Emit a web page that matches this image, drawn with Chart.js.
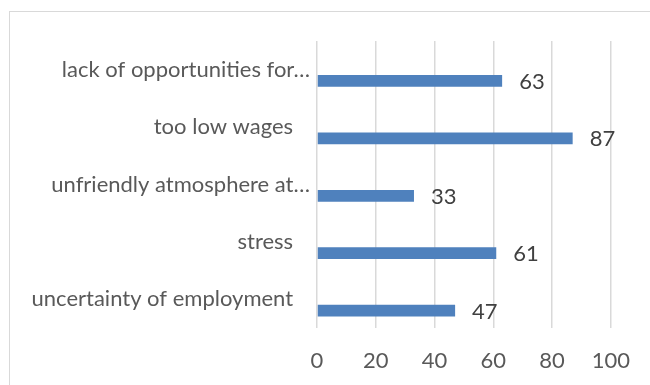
<!DOCTYPE html>
<html>
<head>
<meta charset="utf-8">
<script src="https://cdn.jsdelivr.net/npm/chart.js@4.4.1/dist/chart.umd.min.js"></script>
<style>
  html, body { margin: 0; padding: 0; background: #fff; overflow: hidden; }
  #frame { position: absolute; left: 9px; top: 11px; width: 700px; height: 400px; border: 1px solid #d9d9d9; }
  #wrap { position: absolute; left: 0; top: 0; width: 650px; height: 385px; }
</style>
</head>
<body>
<div id="frame"></div>
<div id="wrap"><canvas id="reasonsChart"></canvas></div>
<script>
// chart data
var categories = ['lack of opportunities for…', 'too low wages', 'unfriendly atmosphere at…', 'stress', 'uncertainty of employment'];
var values = [63, 87, 33, 61, 47];
var xTicks = [0, 20, 40, 60, 80, 100];

// draws the number to the right of each bar
var valueLabels = {
    id: 'valueLabels',
    afterDatasetsDraw: function(chart) {
        var ctx = chart.ctx;
        var meta = chart.getDatasetMeta(1);
        ctx.save();
        ctx.font = '22px Lato';
        ctx.fillStyle = '#404040';
        ctx.textAlign = 'left';
        ctx.textBaseline = 'middle';
        meta.data.forEach(function(bar, i) {
            ctx.fillText(String(values[i]), bar.x + 17, bar.y + 1);
        });
        ctx.restore();
    }
};

document.addEventListener('DOMContentLoaded', function() {
    Chart.defaults.font.family = 'Lato';
    Chart.defaults.font.size = 22;
    Chart.defaults.color = '#595959';

    var ctx = document.getElementById('reasonsChart').getContext('2d');
    var reasonsChart = new Chart(ctx, {
        type: 'bar',
        data: {
            labels: categories,
            datasets: [{
                // empty series, keeps the real bars in the lower half of each row
                label: '',
                data: categories.map(function() { return null; }),
                backgroundColor: 'rgba(0,0,0,0)'
            }, {
                label: 'Reasons',
                data: values,
                backgroundColor: '#4f81bd',
                borderWidth: 0
            }]
        },
        options: {
            indexAxis: 'y',
            responsive: true,
            maintainAspectRatio: false,
            animation: false,
            categoryPercentage: 0.787,
            barPercentage: 0.52,
            layout: { padding: { top: 41, right: 36, bottom: 0, left: 0 } },
            plugins: {
                legend: { display: false },
                tooltip: { enabled: false }
            },
            scales: {
                x: {
                    min: 0,
                    max: 100,
                    afterBuildTicks: function(scale) {
                        scale.ticks = xTicks.map(function(v) { return { value: v }; });
                    },
                    afterFit: function(scale) { scale.height = 57; },
                    grid: { color: '#d9d9d9', lineWidth: 1.5, drawTicks: false },
                    border: { display: false },
                    ticks: { padding: 20, color: '#595959' }
                },
                y: {
                    afterFit: function(scale) { scale.width = 317; },
                    grid: { display: false, drawTicks: false },
                    border: { display: false },
                    ticks: {
                        padding: 7,
                        color: '#595959',
                        callback: function(value) {
                            var txt = this.getLabelForValue(value);
                            // excel leaves a gap after the untruncated names
                            return txt.slice(-1) === '…' ? txt : txt + '   ';
                        }
                    }
                }
            }
        },
        plugins: [valueLabels]
    });
});
</script>
</body>
</html>
